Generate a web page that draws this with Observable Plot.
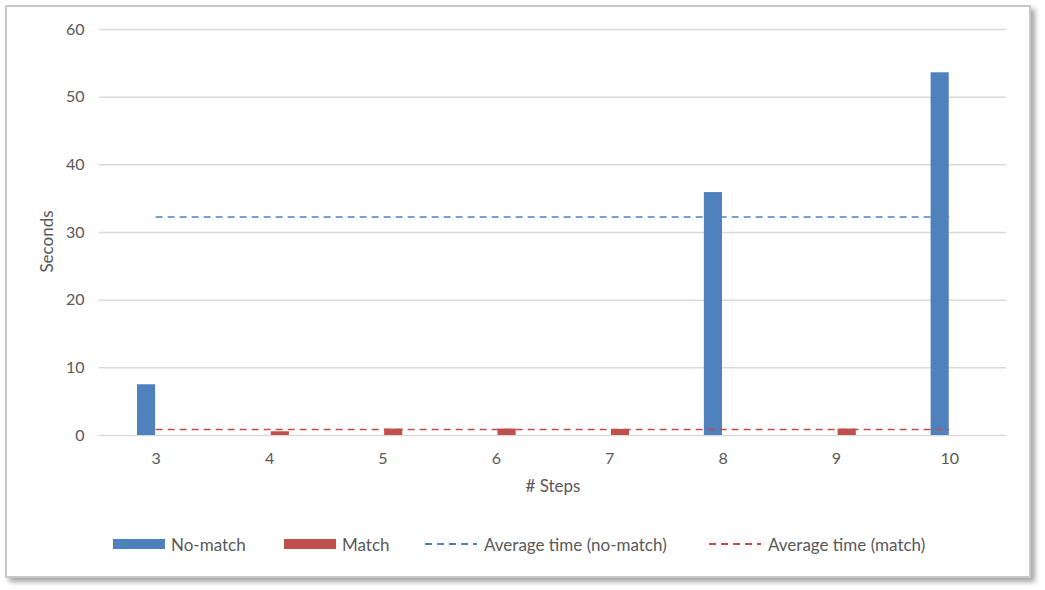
<!DOCTYPE html>
<html>
<head>
<meta charset="utf-8">
<script src="https://cdn.jsdelivr.net/npm/d3@7"></script>
<script src="https://cdn.jsdelivr.net/npm/@observablehq/plot@0.6"></script>
<style>
  html, body { margin: 0; padding: 0; background: #fff; }
  #wrap { position: relative; width: 1045px; height: 590px; overflow: hidden; font-family: Lato, "Open Sans", sans-serif; color: #595959; }
  #frame { position: absolute; left: 5px; top: 5px; width: 1022px; height: 569px; border: 2px solid #c9c9c9; box-shadow: 4px 4px 5px rgba(0,0,0,0.35); background: #fff; }
  #chart { position: absolute; left: 0; top: 0; }
  .leg { position: absolute; top: 534px; height: 20px; display: flex; align-items: center; font-size: 17px; white-space: nowrap; }
  .leg svg { margin-right: 6px; }
</style>
</head>
<body>
<div id="wrap">
  <div id="frame"></div>
  <div id="chart"></div>
  <div class="leg" style="left:113px"><svg width="52" height="10"><rect width="52" height="10" fill="#4F81BD"/></svg>No-match</div>
  <div class="leg" style="left:284px"><svg width="52" height="10"><rect width="52" height="10" fill="#C0504D"/></svg>Match</div>
  <div class="leg" style="left:425px"><svg width="52" height="10" style="margin-right:7px"><line x1="0" x2="52" y1="5" y2="5" stroke="#4F81BD" stroke-width="2" stroke-dasharray="7,5"/></svg>Average time (no-match)</div>
  <div class="leg" style="left:709px"><svg width="52" height="10" style="margin-right:7px"><line x1="0" x2="52" y1="5" y2="5" stroke="#C0504D" stroke-width="2" stroke-dasharray="7,5"/></svg>Average time (match)</div>
</div>
<script>
const steps = [3, 4, 5, 6, 7, 8, 9, 10];
const noMatch = [7.5, null, null, null, null, 35.9, null, 53.6];
const match = [null, 0.55, 0.95, 0.95, 0.9, null, 0.95, null];
const avgNoMatch = 32.3;
const avgMatch = 0.9;
const yTicks = [0, 10, 20, 30, 40, 50, 60];

const blue = "#4F81BD";
const red = "#C0504D";
const barW = 0.16;

const blueRows = steps.map((s, i) => ({step: s, value: noMatch[i]})).filter(d => d.value != null);
const redRows = steps.map((s, i) => ({step: s, value: match[i]})).filter(d => d.value != null);

const chart = Plot.plot({
  width: 1045,
  height: 520,
  marginLeft: 99,
  marginRight: 39,
  marginTop: 29,
  marginBottom: 85,
  style: {fontFamily: "Lato, 'Open Sans', sans-serif", fontSize: "16px", color: "#595959", background: "transparent"},
  x: {domain: [2.5, 10.5]},
  y: {domain: [0, 60]},
  marks: [
    Plot.gridY(yTicks, {stroke: "#d9d9d9", strokeOpacity: 1, strokeWidth: 1.5}),
    Plot.axisY(yTicks, {tickSize: 0, tickPadding: 15, label: null, fontSize: 16}),
    Plot.axisX(steps, {tickSize: 0, tickPadding: 17, label: null, tickFormat: d => String(d), fontSize: 16}),
    Plot.ruleY([avgNoMatch], {x1: 3, x2: 10, stroke: blue, strokeWidth: 1.5, strokeDasharray: "7,5"}),
    Plot.rectY(blueRows, {x1: d => d.step - barW - 0.005, x2: d => d.step - 0.005, y1: 0, y2: "value", fill: blue}),
    Plot.rectY(redRows, {x1: d => d.step + 0.015, x2: d => d.step + barW + 0.015, y1: 0, y2: "value", fill: red}),
    Plot.ruleY([avgMatch], {x1: 3, x2: 10, stroke: red, strokeWidth: 1.5, strokeDasharray: "7,5"}),
    Plot.text(["# Steps"], {frameAnchor: "bottom", dy: 56, fontSize: 17, fill: "#595959"}),
    Plot.text(["Seconds"], {frameAnchor: "left", textAnchor: "middle", dx: -52, dy: 9, rotate: -90, fontSize: 17, fill: "#595959"})
  ]
});
document.getElementById("chart").appendChild(chart);
</script>
</body>
</html>
